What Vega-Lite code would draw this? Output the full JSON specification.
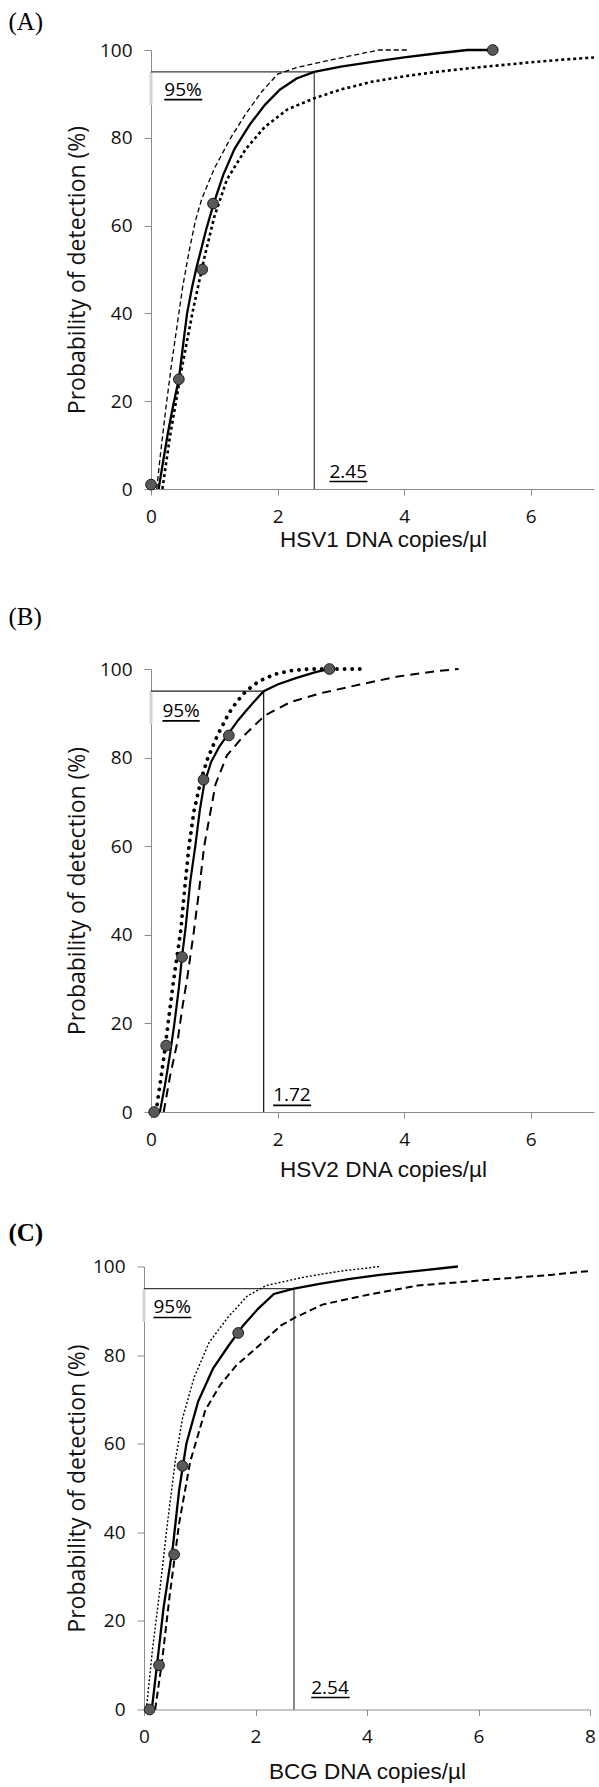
{
  "$schema": "https://vega.github.io/schema/vega-lite/v6.json",
  "background": "white",
  "padding": {"left": 8, "top": 10, "right": 0, "bottom": 0},
  "config": {
    "view": {"stroke": null},
    "axis": {
      "grid": false,
      "domainColor": "#8c8c8c",
      "tickColor": "#8c8c8c",
      "labelFont": "Open Sans",
      "labelFontSize": 19,
      "labelColor": "#111111",
      "labelFlush": false,
      "labelOverlap": false,
      "titleFontWeight": "normal",
      "titleColor": "#111111"
    },
    "axisX": {"tickSize": 6, "labelPadding": 12, "titleFont": "Liberation Sans", "titleFontSize": 22.5, "titlePadding": 2},
    "axisY": {"tickSize": 7, "labelPadding": 12, "titleFont": "Open Sans", "titleFontSize": 23, "titlePadding": 10},
    "title": {"anchor": "start", "frame": "bounds", "font": "Liberation Serif", "fontSize": 25, "fontWeight": "normal", "color": "#000000", "dx": -58}
  },
  "spacing": 39.5,
  "vconcat": [
    {
      "spacing": 53,
      "vconcat": [
        {
          "width": 443,
          "height": 439,
          "title": {"text": "(A)", "offset": 6},
          "data": {"name": "A"},
          "encoding": {
            "x": {"field": "x", "type": "quantitative", "scale": {"domain": [0, 7], "nice": false}, "axis": {"values": [0, 2, 4, 6], "title": "HSV1 DNA copies/µl", "titleX": 232}},
            "y": {"field": "y", "type": "quantitative", "scale": {"domain": [0, 100], "nice": false}, "axis": {"values": [0, 20, 40, 60, 80, 100], "title": "Probability of detection (%)"}}
          },
          "layer": [
            {"transform": [{"filter": "datum.s === 'gb'"}], "mark": {"type": "rule", "color": "#d4d4d4", "strokeWidth": 3}, "encoding": {"x2": {"field": "x2"}, "y2": {"field": "y2"}}},
            {"transform": [{"filter": "datum.s === 'ref'"}], "mark": {"type": "rule", "color": "#3c3c3c", "strokeWidth": 1.2}, "encoding": {"x2": {"field": "x2"}, "y2": {"field": "y2"}}},
            {"transform": [{"filter": "datum.s === 'dash'"}], "mark": {"type": "line", "color": "#000000", "strokeWidth": 1.3, "strokeDash": [5, 3]}, "encoding": {}},
            {"transform": [{"filter": "datum.s === 'dot'"}], "mark": {"type": "line", "color": "#000000", "strokeWidth": 2.6, "strokeDash": [3, 3]}, "encoding": {}},
            {"transform": [{"filter": "datum.s === 'fit'"}], "mark": {"type": "line", "color": "#000000", "strokeWidth": 2.3}, "encoding": {}},
            {"transform": [{"filter": "datum.s === 'pt'"}], "mark": {"type": "circle", "size": 115, "fill": "#595959", "stroke": "#1a1a1a", "strokeWidth": 1, "opacity": 1}},
            {"transform": [{"filter": "datum.s === 'ul'"}], "mark": {"type": "rule", "color": "#000000", "strokeWidth": 1.6}, "encoding": {"x2": {"field": "x2"}, "y2": {"field": "y2"}}},
            {"transform": [{"filter": "datum.s === 'txt'"}], "mark": {"type": "text", "align": "left", "baseline": "alphabetic", "font": "Open Sans", "fontSize": 19, "color": "#000000"}, "encoding": {"text": {"field": "t"}}}
          ]
        },
        {
          "width": 443,
          "height": 443,
          "title": {"text": "(B)", "offset": 30.5},
          "data": {"name": "B"},
          "encoding": {
            "x": {"field": "x", "type": "quantitative", "scale": {"domain": [0, 7], "nice": false}, "axis": {"values": [0, 2, 4, 6], "title": "HSV2 DNA copies/µl", "titleX": 232, "titlePadding": 9}},
            "y": {"field": "y", "type": "quantitative", "scale": {"domain": [0, 100], "nice": false}, "axis": {"values": [0, 20, 40, 60, 80, 100], "title": "Probability of detection (%)"}}
          },
          "layer": [
            {"transform": [{"filter": "datum.s === 'gb'"}], "mark": {"type": "rule", "color": "#d4d4d4", "strokeWidth": 3}, "encoding": {"x2": {"field": "x2"}, "y2": {"field": "y2"}}},
            {"transform": [{"filter": "datum.s === 'ref'"}], "mark": {"type": "rule", "color": "#1e1e1e", "strokeWidth": 1.3}, "encoding": {"x2": {"field": "x2"}, "y2": {"field": "y2"}}},
            {"transform": [{"filter": "datum.s === 'dash'"}], "mark": {"type": "line", "color": "#000000", "strokeWidth": 2, "strokeDash": [9, 6]}, "encoding": {}},
            {"transform": [{"filter": "datum.s === 'dot'"}], "mark": {"type": "line", "color": "#000000", "strokeWidth": 3.8, "strokeCap": "round", "strokeDash": [0.1, 7.5]}, "encoding": {}},
            {"transform": [{"filter": "datum.s === 'fit'"}], "mark": {"type": "line", "color": "#000000", "strokeWidth": 2.2}, "encoding": {}},
            {"transform": [{"filter": "datum.s === 'pt'"}], "mark": {"type": "circle", "size": 115, "fill": "#595959", "stroke": "#1a1a1a", "strokeWidth": 1, "opacity": 1}},
            {"transform": [{"filter": "datum.s === 'ul'"}], "mark": {"type": "rule", "color": "#000000", "strokeWidth": 1.6}, "encoding": {"x2": {"field": "x2"}, "y2": {"field": "y2"}}},
            {"transform": [{"filter": "datum.s === 'txt'"}], "mark": {"type": "text", "align": "left", "baseline": "alphabetic", "font": "Open Sans", "fontSize": 19, "color": "#000000"}, "encoding": {"text": {"field": "t"}}}
          ]
        }
      ]
    },
    {
      "vconcat": [
        {
          "width": 439,
          "height": 443,
          "title": {"text": "(C)", "offset": 11.5, "fontWeight": "bold"},
          "data": {"name": "C"},
          "encoding": {
            "x": {"field": "x", "type": "quantitative", "scale": {"domain": [0, 8], "nice": false, "range": [-7, 439]}, "axis": {"values": [0, 2, 4, 6, 8], "title": "BCG DNA copies/µl", "titlePadding": 14}},
            "y": {"field": "y", "type": "quantitative", "scale": {"domain": [0, 100], "nice": false}, "axis": {"values": [0, 20, 40, 60, 80, 100], "title": "Probability of detection (%)", "offset": 7, "titlePadding": 3}}
          },
          "layer": [
            {"transform": [{"filter": "datum.s === 'gb'"}], "mark": {"type": "rule", "color": "#d4d4d4", "strokeWidth": 3}, "encoding": {"x2": {"field": "x2"}, "y2": {"field": "y2"}}},
            {"transform": [{"filter": "datum.s === 'ref'"}], "mark": {"type": "rule", "color": "#3c3c3c", "strokeWidth": 1.2}, "encoding": {"x2": {"field": "x2"}, "y2": {"field": "y2"}}},
            {"transform": [{"filter": "datum.s === 'dash'"}], "mark": {"type": "line", "color": "#000000", "strokeWidth": 2, "strokeDash": [7, 4]}, "encoding": {}},
            {"transform": [{"filter": "datum.s === 'dot'"}], "mark": {"type": "line", "color": "#000000", "strokeWidth": 1.4, "strokeDash": [2, 2]}, "encoding": {}},
            {"transform": [{"filter": "datum.s === 'fit'"}], "mark": {"type": "line", "color": "#000000", "strokeWidth": 2.3}, "encoding": {}},
            {"transform": [{"filter": "datum.s === 'pt'"}], "mark": {"type": "circle", "size": 115, "fill": "#595959", "stroke": "#1a1a1a", "strokeWidth": 1, "opacity": 1}},
            {"transform": [{"filter": "datum.s === 'ul'"}], "mark": {"type": "rule", "color": "#000000", "strokeWidth": 1.6}, "encoding": {"x2": {"field": "x2"}, "y2": {"field": "y2"}}},
            {"transform": [{"filter": "datum.s === 'txt'"}], "mark": {"type": "text", "align": "left", "baseline": "alphabetic", "font": "Open Sans", "fontSize": 19, "color": "#000000"}, "encoding": {"text": {"field": "t"}}}
          ]
        }
      ]
    }
  ],
  "datasets": {
    "A": [
      {"s": "gb", "x": 0, "x2": 0, "y": 87.5, "y2": 95},
      {"s": "ref", "x": 0, "y": 95, "x2": 2.58, "y2": 95},
      {"s": "ref", "x": 2.58, "y": 0, "x2": 2.58, "y2": 95},
      {"s": "txt", "x": 0.21, "y": 89.5, "t": "95%"},
      {"s": "ul", "x": 0.21, "x2": 0.81, "y": 88.7, "y2": 88.7},
      {"s": "txt", "x": 2.82, "y": 2.5, "t": "2.45"},
      {"s": "ul", "x": 2.82, "x2": 3.42, "y": 1.7, "y2": 1.7},
      {"s": "fit", "x": 0.12, "y": 0}, {"s": "fit", "x": 0.2, "y": 7}, {"s": "fit", "x": 0.27, "y": 13}, {"s": "fit", "x": 0.35, "y": 19},
      {"s": "fit", "x": 0.44, "y": 25}, {"s": "fit", "x": 0.5, "y": 32}, {"s": "fit", "x": 0.57, "y": 40}, {"s": "fit", "x": 0.65, "y": 46},
      {"s": "fit", "x": 0.72, "y": 50.5}, {"s": "fit", "x": 0.8, "y": 55}, {"s": "fit", "x": 0.87, "y": 59}, {"s": "fit", "x": 0.99, "y": 65},
      {"s": "fit", "x": 1.14, "y": 71.5}, {"s": "fit", "x": 1.32, "y": 77.5}, {"s": "fit", "x": 1.56, "y": 83}, {"s": "fit", "x": 1.8, "y": 87.5},
      {"s": "fit", "x": 2.04, "y": 91}, {"s": "fit", "x": 2.3, "y": 93.5}, {"s": "fit", "x": 2.58, "y": 95}, {"s": "fit", "x": 3.0, "y": 96.2},
      {"s": "fit", "x": 3.5, "y": 97.3}, {"s": "fit", "x": 4.0, "y": 98.3}, {"s": "fit", "x": 4.5, "y": 99.2}, {"s": "fit", "x": 5.0, "y": 100},
      {"s": "fit", "x": 5.4, "y": 100},
      {"s": "dash", "x": 0.09, "y": 0}, {"s": "dash", "x": 0.15, "y": 8}, {"s": "dash", "x": 0.24, "y": 19}, {"s": "dash", "x": 0.33, "y": 29},
      {"s": "dash", "x": 0.42, "y": 38}, {"s": "dash", "x": 0.5, "y": 46}, {"s": "dash", "x": 0.6, "y": 54}, {"s": "dash", "x": 0.7, "y": 61},
      {"s": "dash", "x": 0.8, "y": 66}, {"s": "dash", "x": 1.0, "y": 73}, {"s": "dash", "x": 1.26, "y": 80}, {"s": "dash", "x": 1.5, "y": 85.5},
      {"s": "dash", "x": 1.75, "y": 90.5}, {"s": "dash", "x": 2.0, "y": 94.5}, {"s": "dash", "x": 2.3, "y": 96}, {"s": "dash", "x": 2.7, "y": 97.3},
      {"s": "dash", "x": 3.2, "y": 98.8}, {"s": "dash", "x": 3.6, "y": 100}, {"s": "dash", "x": 4.05, "y": 100},
      {"s": "dot", "x": 0.18, "y": 0}, {"s": "dot", "x": 0.3, "y": 12}, {"s": "dot", "x": 0.48, "y": 27}, {"s": "dot", "x": 0.66, "y": 40.5},
      {"s": "dot", "x": 0.84, "y": 52.5}, {"s": "dot", "x": 1.0, "y": 62}, {"s": "dot", "x": 1.2, "y": 70.5}, {"s": "dot", "x": 1.5, "y": 77.5},
      {"s": "dot", "x": 1.8, "y": 82.5}, {"s": "dot", "x": 2.16, "y": 86.5}, {"s": "dot", "x": 2.58, "y": 89}, {"s": "dot", "x": 3.0, "y": 91},
      {"s": "dot", "x": 3.5, "y": 92.8}, {"s": "dot", "x": 4.0, "y": 94}, {"s": "dot", "x": 4.5, "y": 95}, {"s": "dot", "x": 5.0, "y": 95.8},
      {"s": "dot", "x": 5.5, "y": 96.5}, {"s": "dot", "x": 6.0, "y": 97.2}, {"s": "dot", "x": 6.5, "y": 97.8}, {"s": "dot", "x": 7.0, "y": 98.3},
      {"s": "pt", "x": 0, "y": 1}, {"s": "pt", "x": 0.44, "y": 25}, {"s": "pt", "x": 0.81, "y": 50}, {"s": "pt", "x": 0.98, "y": 65}, {"s": "pt", "x": 5.4, "y": 100}
    ],
    "B": [
      {"s": "gb", "x": 0, "x2": 0, "y": 87.5, "y2": 95},
      {"s": "ref", "x": 0, "y": 95, "x2": 1.78, "y2": 95},
      {"s": "ref", "x": 1.78, "y": 0, "x2": 1.78, "y2": 95},
      {"s": "txt", "x": 0.18, "y": 89.2, "t": "95%"},
      {"s": "ul", "x": 0.18, "x2": 0.77, "y": 88.3, "y2": 88.3},
      {"s": "txt", "x": 1.93, "y": 2.4, "t": "1.72"},
      {"s": "ul", "x": 1.93, "x2": 2.53, "y": 1.5, "y2": 1.5},
      {"s": "fit", "x": 0.14, "y": 0}, {"s": "fit", "x": 0.22, "y": 6}, {"s": "fit", "x": 0.3, "y": 13}, {"s": "fit", "x": 0.37, "y": 20},
      {"s": "fit", "x": 0.44, "y": 28}, {"s": "fit", "x": 0.49, "y": 35}, {"s": "fit", "x": 0.55, "y": 42}, {"s": "fit", "x": 0.62, "y": 52},
      {"s": "fit", "x": 0.7, "y": 60}, {"s": "fit", "x": 0.77, "y": 68}, {"s": "fit", "x": 0.84, "y": 74}, {"s": "fit", "x": 0.95, "y": 79},
      {"s": "fit", "x": 1.08, "y": 82.5}, {"s": "fit", "x": 1.23, "y": 85.5}, {"s": "fit", "x": 1.38, "y": 88.5}, {"s": "fit", "x": 1.5, "y": 90.5},
      {"s": "fit", "x": 1.62, "y": 92.5}, {"s": "fit", "x": 1.78, "y": 95}, {"s": "fit", "x": 2.0, "y": 96.5}, {"s": "fit", "x": 2.3, "y": 98},
      {"s": "fit", "x": 2.6, "y": 99.3}, {"s": "fit", "x": 2.82, "y": 100},
      {"s": "dot", "x": 0.08, "y": 0}, {"s": "dot", "x": 0.15, "y": 7}, {"s": "dot", "x": 0.21, "y": 13}, {"s": "dot", "x": 0.27, "y": 20},
      {"s": "dot", "x": 0.35, "y": 29}, {"s": "dot", "x": 0.42, "y": 36}, {"s": "dot", "x": 0.47, "y": 41}, {"s": "dot", "x": 0.53, "y": 50},
      {"s": "dot", "x": 0.6, "y": 60}, {"s": "dot", "x": 0.68, "y": 68}, {"s": "dot", "x": 0.79, "y": 75}, {"s": "dot", "x": 0.9, "y": 80},
      {"s": "dot", "x": 1.05, "y": 85}, {"s": "dot", "x": 1.23, "y": 90}, {"s": "dot", "x": 1.35, "y": 92.5}, {"s": "dot", "x": 1.5, "y": 95},
      {"s": "dot", "x": 1.7, "y": 97.2}, {"s": "dot", "x": 1.95, "y": 98.8}, {"s": "dot", "x": 2.2, "y": 99.6}, {"s": "dot", "x": 2.5, "y": 100},
      {"s": "dot", "x": 2.82, "y": 100}, {"s": "dot", "x": 3.3, "y": 100},
      {"s": "dash", "x": 0.2, "y": 0}, {"s": "dash", "x": 0.3, "y": 8}, {"s": "dash", "x": 0.42, "y": 16}, {"s": "dash", "x": 0.5, "y": 24},
      {"s": "dash", "x": 0.57, "y": 30}, {"s": "dash", "x": 0.67, "y": 40}, {"s": "dash", "x": 0.76, "y": 50}, {"s": "dash", "x": 0.84, "y": 60},
      {"s": "dash", "x": 0.93, "y": 67}, {"s": "dash", "x": 1.02, "y": 74}, {"s": "dash", "x": 1.2, "y": 80.5}, {"s": "dash", "x": 1.47, "y": 85},
      {"s": "dash", "x": 1.8, "y": 89.5}, {"s": "dash", "x": 2.2, "y": 92.5}, {"s": "dash", "x": 2.7, "y": 94.6}, {"s": "dash", "x": 3.3, "y": 96.5},
      {"s": "dash", "x": 3.9, "y": 98.3}, {"s": "dash", "x": 4.5, "y": 99.5}, {"s": "dash", "x": 4.86, "y": 100},
      {"s": "pt", "x": 0.05, "y": 0}, {"s": "pt", "x": 0.24, "y": 15}, {"s": "pt", "x": 0.49, "y": 35}, {"s": "pt", "x": 0.83, "y": 75}, {"s": "pt", "x": 1.23, "y": 85}, {"s": "pt", "x": 2.82, "y": 100}
    ],
    "C": [
      {"s": "gb", "x": 0, "x2": 0, "y": 87.5, "y2": 95},
      {"s": "ref", "x": 0, "y": 95, "x2": 2.69, "y2": 95},
      {"s": "ref", "x": 2.69, "y": 0, "x2": 2.69, "y2": 95},
      {"s": "txt", "x": 0.17, "y": 89.5, "t": "95%"},
      {"s": "ul", "x": 0.17, "x2": 0.85, "y": 88.5, "y2": 88.5},
      {"s": "txt", "x": 3.0, "y": 3.6, "t": "2.54"},
      {"s": "ul", "x": 3.0, "x2": 3.69, "y": 2.7, "y2": 2.7},
      {"s": "fit", "x": 0.14, "y": 0}, {"s": "fit", "x": 0.22, "y": 8.6}, {"s": "fit", "x": 0.35, "y": 22.9}, {"s": "fit", "x": 0.52, "y": 37},
      {"s": "fit", "x": 0.63, "y": 49.5}, {"s": "fit", "x": 0.76, "y": 60}, {"s": "fit", "x": 0.97, "y": 69.5}, {"s": "fit", "x": 1.24, "y": 77},
      {"s": "fit", "x": 1.51, "y": 82}, {"s": "fit", "x": 1.78, "y": 86.7}, {"s": "fit", "x": 2.05, "y": 90.5}, {"s": "fit", "x": 2.33, "y": 93.8},
      {"s": "fit", "x": 2.69, "y": 95}, {"s": "fit", "x": 3.2, "y": 96.2}, {"s": "fit", "x": 3.7, "y": 97.2}, {"s": "fit", "x": 4.23, "y": 98.1},
      {"s": "fit", "x": 4.91, "y": 99}, {"s": "fit", "x": 5.63, "y": 100},
      {"s": "dot", "x": 0.05, "y": 1}, {"s": "dot", "x": 0.15, "y": 13.3}, {"s": "dot", "x": 0.29, "y": 27.6}, {"s": "dot", "x": 0.42, "y": 42},
      {"s": "dot", "x": 0.56, "y": 56}, {"s": "dot", "x": 0.69, "y": 65.7}, {"s": "dot", "x": 0.9, "y": 75}, {"s": "dot", "x": 1.17, "y": 82.9},
      {"s": "dot", "x": 1.51, "y": 88.6}, {"s": "dot", "x": 1.85, "y": 93.3}, {"s": "dot", "x": 2.19, "y": 95.7}, {"s": "dot", "x": 2.87, "y": 97.6},
      {"s": "dot", "x": 3.55, "y": 99}, {"s": "dot", "x": 4.23, "y": 100},
      {"s": "dash", "x": 0.2, "y": 0}, {"s": "dash", "x": 0.32, "y": 10.5}, {"s": "dash", "x": 0.46, "y": 25.7}, {"s": "dash", "x": 0.63, "y": 42},
      {"s": "dash", "x": 0.83, "y": 56}, {"s": "dash", "x": 1.1, "y": 67.6}, {"s": "dash", "x": 1.37, "y": 73.3}, {"s": "dash", "x": 1.65, "y": 77.6},
      {"s": "dash", "x": 2.05, "y": 82}, {"s": "dash", "x": 2.46, "y": 86.7}, {"s": "dash", "x": 2.73, "y": 88.6}, {"s": "dash", "x": 3.2, "y": 91.4},
      {"s": "dash", "x": 3.89, "y": 93.3}, {"s": "dash", "x": 4.91, "y": 95.7}, {"s": "dash", "x": 6.27, "y": 97.1}, {"s": "dash", "x": 7.29, "y": 98.1},
      {"s": "dash", "x": 8.0, "y": 99},
      {"s": "pt", "x": 0.1, "y": 0}, {"s": "pt", "x": 0.27, "y": 10}, {"s": "pt", "x": 0.54, "y": 35}, {"s": "pt", "x": 0.69, "y": 55}, {"s": "pt", "x": 1.69, "y": 85}
    ]
  }
}
